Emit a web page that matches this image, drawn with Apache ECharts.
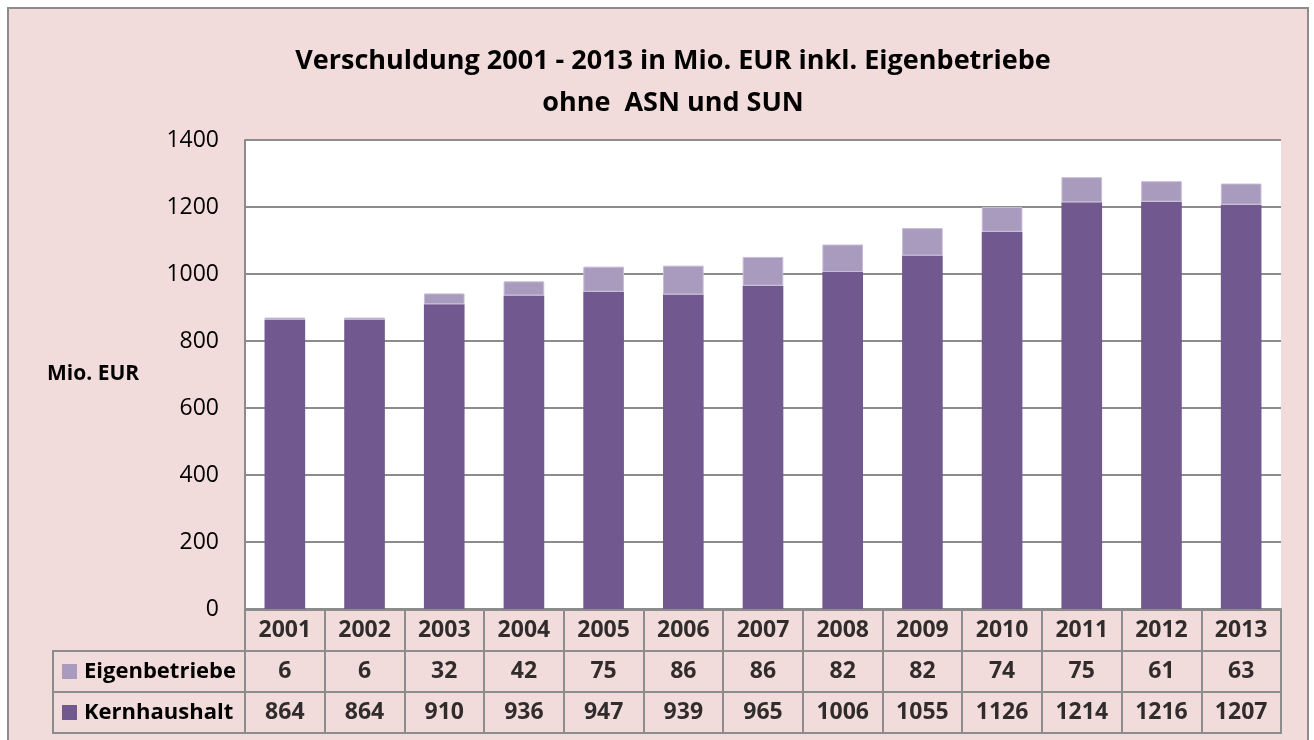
<!DOCTYPE html>
<html>
<head>
<meta charset="UTF-8">
<title>Verschuldung</title>
<style>
  * { margin: 0; padding: 0; }
  html, body { width: 100%; height: 100%; background: #fff; overflow: hidden; }
  #main { width: 1314px; height: 740px; }
</style>
</head>
<body>
<div id="main"></div>
<script src="https://cdn.jsdelivr.net/npm/echarts@6/dist/echarts.min.js"></script>
<script>
  // Daten
  var years = ['2001', '2002', '2003', '2004', '2005', '2006', '2007', '2008', '2009', '2010', '2011', '2012', '2013'];
  var eigenbetriebe = [6, 6, 32, 42, 75, 86, 86, 82, 82, 74, 75, 61, 63];
  var kernhaushalt = [864, 864, 910, 936, 947, 939, 965, 1006, 1055, 1126, 1214, 1216, 1207];
  var seriesNames = ['Eigenbetriebe', 'Kernhaushalt'];
  var yTicks = { min: 0, max: 1400, interval: 200 };

  var colKern = '#71588F';
  var colEigen = '#A99BBD';
  var lineGray = '#8C8C8C';
  var font = '"Open Sans", sans-serif';

  // Zeilen der Datentabelle: 0 = Kernhaushalt, 1 = Eigenbetriebe, 2 = Jahre
  var tableRows = ['Kernhaushalt', 'Eigenbetriebe', 'Jahr'];
  var tableData = [];
  years.forEach(function(y, i) {
    tableData.push([i, 2, y]);
    tableData.push([i, 1, String(eigenbetriebe[i])]);
    tableData.push([i, 0, String(kernhaushalt[i])]);
  });

  var chart = echarts.init(document.getElementById('main'));
  var option = {
    backgroundColor: '#fff',
    animation: false,
    textStyle: { fontFamily: font },
    title: {
      text: 'Verschuldung 2001 - 2013 in Mio. EUR inkl. Eigenbetriebe\nohne  ASN und SUN',
      left: 668,
      top: 35,
      textAlign: 'center',
      textStyle: { fontFamily: font, fontSize: 27, fontWeight: 'bold', color: '#000', lineHeight: 42 }
    },
    graphic: [
      { type: 'rect', z: -10, shape: { x: 8, y: 8, width: 1300, height: 760 },
        style: { fill: '#F2DCDB', stroke: lineGray, lineWidth: 2 } },
      { type: 'text', left: 47, top: 364,
        style: { text: 'Mio. EUR', font: 'bold 21px ' + font, fill: '#000' } },
      // Rahmen der Beschriftungsspalte
      { type: 'rect', shape: { x: 53, y: 651, width: 192, height: 82 },
        style: { fill: 'none', stroke: lineGray, lineWidth: 2 } },
      { type: 'line', shape: { x1: 53, y1: 692, x2: 245, y2: 692 },
        style: { stroke: lineGray, lineWidth: 2 } }
    ],
    grid: [
      { left: 245, right: 33, top: 140, bottom: 131, show: true, backgroundColor: '#fff', borderWidth: 0 },
      { left: 245, right: 33, top: 610, bottom: 7, show: true, borderColor: lineGray, borderWidth: 2 }
    ],
    xAxis: [
      {
        gridIndex: 0, type: 'category', data: years,
        axisLabel: { show: false }, axisTick: { show: false },
        axisLine: { show: true, lineStyle: { color: lineGray, width: 2 } }
      },
      {
        gridIndex: 1, type: 'category', data: years,
        axisLabel: { show: false }, axisTick: { show: false }, axisLine: { show: false },
        splitLine: { show: true, lineStyle: { color: lineGray, width: 2 } }
      }
    ],
    yAxis: [
      {
        gridIndex: 0, type: 'value', min: yTicks.min, max: yTicks.max, interval: yTicks.interval,
        axisLine: { show: true, lineStyle: { color: lineGray, width: 2 } },
        axisTick: { show: false },
        axisLabel: { color: '#000', fontSize: 23, margin: 26, fontFamily: font,
          formatter: function(v) { return String(v); } },
        splitLine: { show: true, lineStyle: { color: lineGray, width: 2 } }
      },
      {
        gridIndex: 1, type: 'category', data: tableRows,
        axisLine: { show: false }, axisTick: { show: false },
        splitLine: { show: true, lineStyle: { color: lineGray, width: 2 } },
        axisLabel: {
          align: 'left', margin: 183,
          formatter: function(v) {
            if (v === 'Eigenbetriebe') return '{e| }{t|' + v + '}';
            if (v === 'Kernhaushalt') return '{k| }{t|' + v + '}';
            return '';
          },
          rich: {
            e: { backgroundColor: colEigen, width: 15, height: 15 },
            k: { backgroundColor: colKern, width: 15, height: 15 },
            t: { fontSize: 22, fontWeight: 'bold', color: '#000', fontFamily: font, padding: [0, 0, 0, 7] }
          }
        }
      }
    ],
    series: [
      {
        name: seriesNames[1], type: 'bar', stack: 'total', data: kernhaushalt,
        xAxisIndex: 0, yAxisIndex: 0, barWidth: '51%',
        itemStyle: { color: colKern }
      },
      {
        name: seriesNames[0], type: 'bar', stack: 'total', data: eigenbetriebe,
        xAxisIndex: 0, yAxisIndex: 0, barWidth: '51%',
        itemStyle: { color: colEigen, borderColor: '#C6BBD6', borderWidth: 1 }
      },
      {
        name: 'Tabelle', type: 'scatter', xAxisIndex: 1, yAxisIndex: 1,
        symbolSize: 0, data: tableData, silent: true,
        label: {
          show: true, position: 'inside',
          formatter: function(p) { return p.value[2]; },
          fontSize: 23, fontWeight: 'bold', color: '#000', fontFamily: font
        }
      }
    ]
  };
  chart.setOption(option);
</script>
</body>
</html>
